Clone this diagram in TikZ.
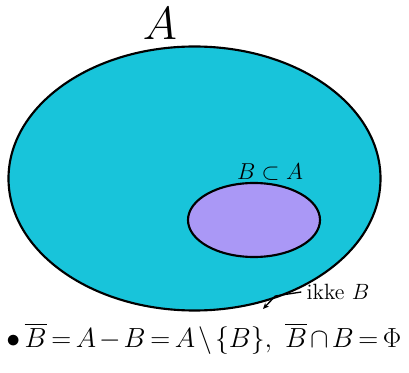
\documentclass[tikz,border=0pt]{standalone}
\usepackage{amsmath, amssymb}
\usepackage{tikz}
\usetikzlibrary{arrows.meta, positioning, calc}
\definecolor{setcyan}{RGB}{24, 196, 218}
\definecolor{subsetlilac}{RGB}{170, 152, 246}
\tikzset{
  >=Stealth,
  setline/.style={line width=1.6pt, black},
  notearrow/.style={-{Stealth[length=1.6mm, width=1.4mm]}, line width=1pt, black}
}

\begin{document}
\begin{tikzpicture}[x=0.75pt, y=-0.75pt, every node/.style={font=\sffamily}]
\useasboundingbox (0,0) rectangle (409,373);
% sets
\draw[setline, fill=setcyan] (194.5,178.5) ellipse [x radius=186, y radius=132];
\draw[setline, fill=subsetlilac] (254,220) ellipse [x radius=66, y radius=37];
\node[font=\Huge, scale=1.4] (setA) at (160,24) {$A$};
\node[font=\LARGE] (subsetlbl) at (270,172) {$B\subset A$};
% formula
\node[anchor=base west, inner sep=0pt, font=\huge] (formula) at (6,347)
{\thickmuskip=3mu\medmuskip=2mu$\bullet\,\overline{B}=A-B=A\setminus\{B\},\ \overline{B}\cap B=\Phi$};
\node[font=\Large, scale=1.15] (ikke) at (338,292) {ikke $B$};
\coordinate (tip) at (263,309);
\draw[notearrow] (ikke.west) -- ++(-26,4) -- (tip);
\end{tikzpicture}
\end{document}
